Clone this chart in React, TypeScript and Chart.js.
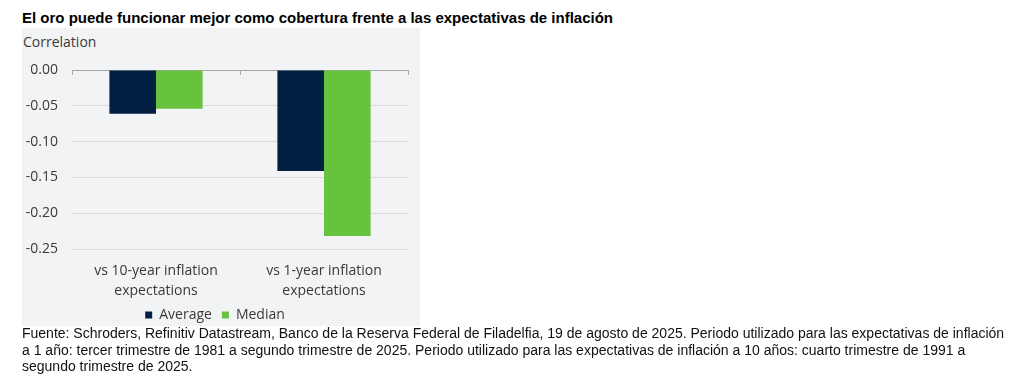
import React, { useEffect, useRef } from "react";
import { Chart, registerables } from "chart.js";

Chart.register(...registerables);

const TITLE = "El oro puede funcionar mejor como cobertura frente a las expectativas de inflación";
const AXIS_TITLE = "Correlation";
const CATEGORIES: string[][] = [
  ["vs 10-year inflation", "expectations"],
  ["vs 1-year inflation", "expectations"],
];
const AVERAGE = [-0.061, -0.141];
const MEDIAN = [-0.054, -0.232];
const Y_MIN = -0.25;
const Y_MAX = 0;
const Y_STEP = 0.05;
const FOOTNOTE_LINES = [
  "Fuente: Schroders, Refinitiv Datastream, Banco de la Reserva Federal de Filadelfia, 19 de agosto de 2025. Periodo utilizado para las expectativas de inflación",
  "a 1 año: tercer trimestre de 1981 a segundo trimestre de 2025. Periodo utilizado para las expectativas de inflación a 10 años: cuarto trimestre de 1991 a",
  "segundo trimestre de 2025.",
];

const NAVY = "#021f41";
const GREEN = "#67c23e";
const PANEL = "#f2f3f5";
const TEXT = "#3a3a3a";
const CHART_FONT = "'Open Sans', 'Noto Sans', sans-serif";

const categoryTicks = {
  id: "categoryTicks",
  afterDatasetsDraw(chart: any) {
    const x = chart.scales.x;
    const y = chart.scales.y;
    const ctx = chart.ctx;
    const n = x.ticks.length;
    const half = (x.getPixelForTick(1) - x.getPixelForTick(0)) / 2;
    const y0 = y.getPixelForValue(0);
    ctx.save();
    ctx.strokeStyle = "#a6a6a6";
    ctx.lineWidth = 1;
    for (let i = 0; i <= n; i++) {
      const px = Math.round(x.getPixelForTick(0) - half + i * 2 * half) + 0.5;
      ctx.beginPath();
      ctx.moveTo(px, y0);
      ctx.lineTo(px, y0 + 5);
      ctx.stroke();
    }
    ctx.restore();
  },
};

function BarChart() {
  const ref = useRef<HTMLCanvasElement | null>(null);
  useEffect(() => {
    if (!ref.current) return;
    const chart = new Chart(ref.current, {
      type: "bar",
      data: {
        labels: CATEGORIES as any,
        datasets: [
          { label: "Average", data: AVERAGE, backgroundColor: NAVY, borderWidth: 0 },
          { label: "Median", data: MEDIAN, backgroundColor: GREEN, borderWidth: 0 },
        ],
      },
      options: {
        animation: false,
        responsive: false,
        maintainAspectRatio: false,
        devicePixelRatio: 1,
        layout: { padding: { top: 42, right: 12, left: 0, bottom: 0 } },
        datasets: { bar: { categoryPercentage: 0.555, barPercentage: 1.0 } } as any,
        scales: {
          x: {
            grid: { display: false, drawTicks: false },
            border: { display: false },
            ticks: {
              color: TEXT,
              padding: 12,
              font: { family: CHART_FONT, size: 14, lineHeight: 1.43 },
              maxRotation: 0,
            },
            afterFit: (s: any) => {
              s.height = 49;
            },
          },
          y: {
            min: Y_MIN,
            max: Y_MAX,
            grid: {
              color: (c: any) => (c.tick && c.tick.value === 0 ? "#a6a6a6" : "#d9d9d9"),
              drawTicks: false,
              lineWidth: 1,
            },
            border: { display: false },
            ticks: {
              stepSize: Y_STEP,
              color: TEXT,
              padding: 14,
              font: { family: CHART_FONT, size: 14 },
              callback: (v: any) => Number(v).toFixed(2),
            },
            afterFit: (s: any) => {
              s.width = 50;
            },
          },
        },
        plugins: {
          legend: {
            position: "bottom",
            labels: {
              boxWidth: 7,
              boxHeight: 7,
              padding: 10,
              color: TEXT,
              font: { family: CHART_FONT, size: 14 },
            },
          },
          tooltip: { enabled: false },
          title: { display: false },
        },
      },
      plugins: [categoryTicks],
    });
    return () => chart.destroy();
  }, []);
  return (
    <canvas
      ref={ref}
      width={398}
      height={304}
      style={{ position: "absolute", left: 0, top: 0, width: 398, height: 304 }}
    />
  );
}

export default function App() {
  return (
    <div
      style={{
        position: "absolute",
        left: 0,
        top: 0,
        width: 1024,
        height: 378,
        background: "#ffffff",
        overflow: "hidden",
      }}
    >
      <div
        style={{
          position: "absolute",
          left: 22,
          top: 28,
          width: 398,
          height: 298,
          background: PANEL,
        }}
      />
      <div
        style={{
          position: "absolute",
          left: 22,
          top: 8,
          fontFamily: "'Liberation Sans', Arial, sans-serif",
          fontWeight: "bold",
          fontSize: 15,
          lineHeight: "19px",
          color: "#000",
          whiteSpace: "nowrap",
        }}
      >
        {TITLE}
      </div>
      <div
        style={{
          position: "absolute",
          left: 23,
          top: 32,
          fontFamily: CHART_FONT,
          fontSize: 14,
          lineHeight: "19px",
          color: TEXT,
          whiteSpace: "nowrap",
        }}
      >
        {AXIS_TITLE}
      </div>
      <div style={{ position: "absolute", left: 22, top: 28, width: 398, height: 304 }}>
        <BarChart />
      </div>
      <div
        style={{
          position: "absolute",
          left: 22,
          top: 325,
          fontFamily: "'Liberation Sans', Arial, sans-serif",
          fontSize: 14,
          lineHeight: "16.5px",
          color: "#111",
          whiteSpace: "nowrap",
        }}
      >
        {FOOTNOTE_LINES.map((l, i) => (
          <div key={i}>{l}</div>
        ))}
      </div>
    </div>
  );
}
